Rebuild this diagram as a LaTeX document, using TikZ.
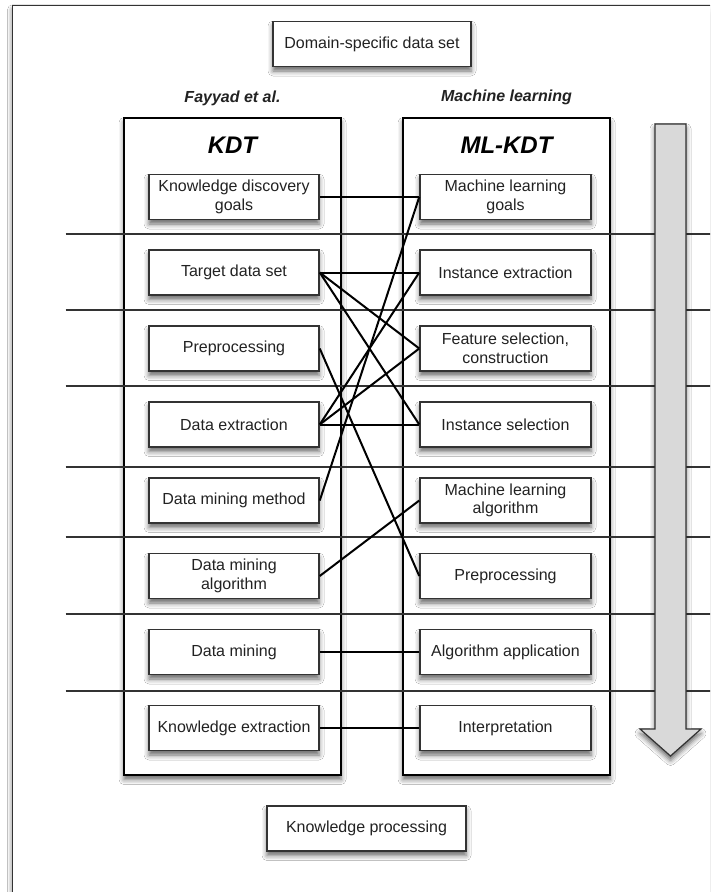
\documentclass[tikz,border=0pt]{standalone}
\usepackage{fontspec}
\setmainfont{Liberation Sans}
\usetikzlibrary{shadows.blur}
\definecolor{ink}{HTML}{222222}
\definecolor{rulegray}{HTML}{333333}
\definecolor{arrowgray}{HTML}{D9D9D9}
\begin{document}
\begin{tikzpicture}[x=1pt,y=-1pt,
  soft/.style={blur shadow={shadow xshift=0pt,shadow yshift=-4.5pt,shadow blur radius=5pt,shadow opacity=60}},
  stepbox/.style={draw=rulegray,line width=1.5pt,fill=white,soft,minimum height=45pt,
    inner sep=2pt,align=center,text=ink,font=\fontsize{16}{18.5}\selectfont},
  kdtbox/.style={stepbox,minimum width=170pt},
  mlbox/.style={stepbox,minimum width=171pt},
  colbox/.style={draw=black,line width=1.6pt,fill=white,soft,minimum height=657pt,inner sep=0pt},
  link/.style={line width=2pt,black},
  sepline/.style={line width=1.2pt,rulegray},
  colhead/.style={text=ink,font=\fontsize{16}{18}\selectfont\bfseries\itshape},
  coltitle/.style={text=black,font=\fontsize{24}{28}\selectfont\bfseries\itshape}
]
\useasboundingbox (0,0) rectangle (710,892);
\clip (0,0) rectangle (710,892);
\fill[white] (0,0) rectangle (710,892);

% outer frame, running off the right and bottom edges
\draw[rulegray,line width=1.5pt,fill=white,soft] (12.5,5.3) rectangle (730,910);

% end nodes
\node[stepbox,minimum width=198pt] (domain) at (372,44) {Domain-specific data set};
\node[stepbox,minimum width=199pt] (kproc) at (366.5,828.5) {Knowledge processing};

% column headings
\node[colhead] (fayyad) at (232.5,98) {Fayyad et al.};
\node[colhead] (mlhead) at (506.5,97) {Machine learning};

% the two process columns
\node[colbox,minimum width=217pt] (kdtcol) at (232.5,446.5) {};
\node[colbox,minimum width=207pt] (mlcol) at (506.5,446.5) {};
\node[coltitle] (kdttitle) at (232.5,145) {KDT};
\node[coltitle] (mltitle) at (506.5,145) {ML-KDT};

% row separators
\foreach \yy in {234,310,386,467,537,614,691}
  \draw[sepline] (65.7,\yy) -- (715,\yy);

% KDT steps
\node[kdtbox] (k1) at (234,197) {Knowledge discovery\\goals};
\node[kdtbox] (k2) at (234,272.5) {Target data set};
\node[kdtbox] (k3) at (234,348.5) {Preprocessing};
\node[kdtbox] (k4) at (234,424.5) {Data extraction};
\node[kdtbox] (k5) at (234,500.5) {Data mining method};
\node[kdtbox] (k6) at (234,576) {Data mining\\algorithm};
\node[kdtbox] (k7) at (234,652) {Data mining};
\node[kdtbox] (k8) at (234,728) {Knowledge extraction};

% ML-KDT steps
\node[mlbox] (m1) at (505.5,197) {Machine learning\\goals};
\node[mlbox] (m2) at (505.5,272.5) {Instance extraction};
\node[mlbox] (m3) at (505.5,348.5) {Feature selection,\\construction};
\node[mlbox] (m4) at (505.5,424.5) {Instance selection};
\node[mlbox] (m5) at (505.5,500.5) {Machine learning\\algorithm};
\node[mlbox] (m6) at (505.5,576) {Preprocessing};
\node[mlbox] (m7) at (505.5,652) {Algorithm application};
\node[mlbox] (m8) at (505.5,728) {Interpretation};

% correspondences between the two process models
\draw[link] (k1.east) -- (m1.west);
\draw[link] (k2.east) -- (m2.west);
\draw[link] (k2.east) -- (m3.west);
\draw[link] (k2.east) -- (m4.west);
\draw[link] (k3.east) -- (m6.west);
\draw[link] (k4.east) -- (m2.west);
\draw[link] (k4.east) -- (m3.west);
\draw[link] (k4.east) -- (m4.west);
\draw[link] (k5.east) -- (m1.west);
\draw[link] (k6.east) -- (m5.west);
\draw[link] (k7.east) -- (m7.west);
\draw[link] (k8.east) -- (m8.west);

% process direction arrow
\draw[rulegray,line width=1.2pt,fill=arrowgray,soft,line join=miter]
  (655,124) -- (686,124) -- (686,729) -- (701,729) -- (670.5,756)
  -- (640,729) -- (655,729) -- cycle;
\end{tikzpicture}
\end{document}
